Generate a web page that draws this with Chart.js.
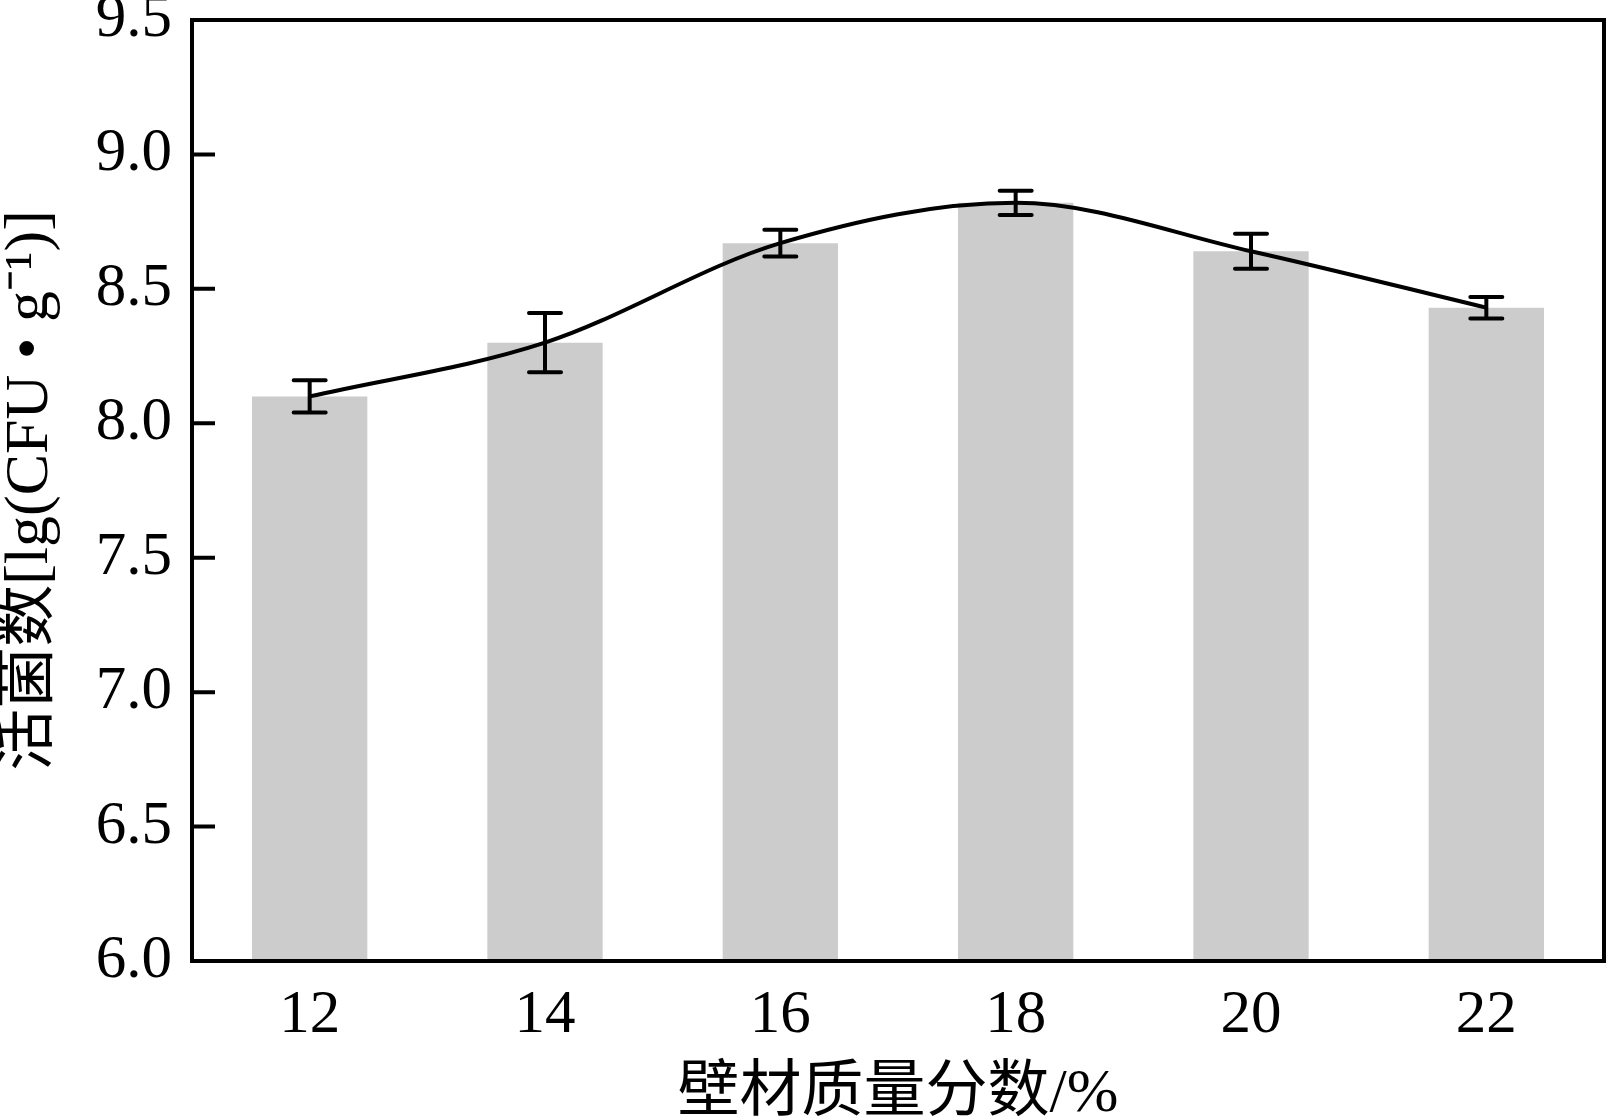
<!DOCTYPE html>
<html>
<head>
<meta charset="utf-8">
<script src="https://cdn.jsdelivr.net/npm/chart.js@4.4.1/dist/chart.umd.min.js"></script>
<style>
  html, body { margin: 0; padding: 0; background: #fff; }
  #wrap { width: 1607px; height: 1120px; }
</style>
</head>
<body>
<div id="wrap"><canvas id="chart" width="1607" height="1120"></canvas></div>
<script>
// ---- Data ----
const categories = ['12', '14', '16', '18', '20', '22'];
const viableCounts = [8.10, 8.30, 8.67, 8.82, 8.64, 8.43];
const errors = [0.06, 0.11, 0.05, 0.045, 0.065, 0.04];
const yTicks = [6.0, 6.5, 7.0, 7.5, 8.0, 8.5, 9.0, 9.5];

const SERIF = "'Liberation Serif', 'Times New Roman', serif";
const TITLE_FONT = "'Liberation Serif', 'Noto Sans CJK SC', serif";

// ---- Frame, inward ticks, error bars ----
const decorPlugin = {
    id: 'decor',
    afterDatasetsDraw(chart) {
        const { ctx, chartArea: a, scales: { x, y } } = chart;
        ctx.save();
        ctx.strokeStyle = '#000';

        // error bars
        ctx.lineWidth = 4;
        ctx.lineCap = 'round';
        viableCounts.forEach((v, i) => {
            const px = x.getPixelForValue(i);
            const hi = y.getPixelForValue(v + errors[i]);
            const lo = y.getPixelForValue(v - errors[i]);
            ctx.beginPath();
            ctx.moveTo(px, hi); ctx.lineTo(px, lo);
            ctx.moveTo(px - 16, hi); ctx.lineTo(px + 16, hi);
            ctx.moveTo(px - 16, lo); ctx.lineTo(px + 16, lo);
            ctx.stroke();
        });

        // inward y ticks
        ctx.lineCap = 'butt';
        ctx.beginPath();
        yTicks.forEach(t => {
            if (t === yTicks[0] || t === yTicks[yTicks.length - 1]) return;
            const py = y.getPixelForValue(t);
            ctx.moveTo(a.left, py);
            ctx.lineTo(a.left + 23, py);
        });
        ctx.stroke();

        // frame
        ctx.lineWidth = 4;
        ctx.lineJoin = 'miter';
        ctx.strokeRect(a.left, a.top, a.right - a.left, a.bottom - a.top);
        ctx.restore();
    },
};

new Chart(document.getElementById('chart'), {
    type: 'bar',
    data: {
        labels: categories,
        datasets: [
            {
                type: 'line',
                data: viableCounts,
                borderColor: '#000',
                borderWidth: 4,
                cubicInterpolationMode: 'monotone',
                pointRadius: 0,
                fill: false,
                order: 0,
            },
            {
                type: 'bar',
                data: viableCounts,
                backgroundColor: '#cccccc',
                borderWidth: 0,
                barPercentage: 0.49,
                categoryPercentage: 1.0,
                order: 1,
            },
        ],
    },
    options: {
        responsive: false,
        animation: false,
        devicePixelRatio: 1,
        layout: { padding: { left: 0, right: 3, top: 20, bottom: 0 } },
        plugins: {
            legend: { display: false },
            tooltip: { enabled: false },
        },
        scales: {
            x: {
                grid: { display: false, drawTicks: false },
                border: { display: false },
                ticks: { color: '#000', padding: 18, font: { family: SERIF, size: 61 } },
                title: {
                    display: true,
                    text: '壁材质量分数/%',
                    color: '#000',
                    padding: { top: 0, bottom: 0 },
                    font: { family: TITLE_FONT, size: 62, lineHeight: 0.8 },
                },
                afterFit(scale) {
                    scale.height = 159;
                    scale.paddingLeft = 0;
                    scale.paddingRight = 0;
                },
            },
            y: {
                min: 6,
                max: 9.5,
                grid: { display: false, drawTicks: false },
                border: { display: false },
                afterBuildTicks(scale) {
                    scale.ticks = yTicks.map(v => ({ value: v }));
                },
                ticks: {
                    color: '#000',
                    padding: 20,
                    font: { family: SERIF, size: 61 },
                    callback: (v) => Number(v).toFixed(1),
                },
                title: {
                    display: true,
                    text: '活菌数[lg(CFU • g⁻¹)]',
                    color: '#000',
                    padding: { top: 0, bottom: 0 },
                    font: { family: TITLE_FONT, size: 62, lineHeight: 1.0 },
                },
                afterFit(scale) {
                    scale.width = 192;
                    scale.paddingTop = 0;
                    scale.paddingBottom = 0;
                },
            },
        },
    },
    plugins: [decorPlugin],
});
</script>
</body>
</html>
